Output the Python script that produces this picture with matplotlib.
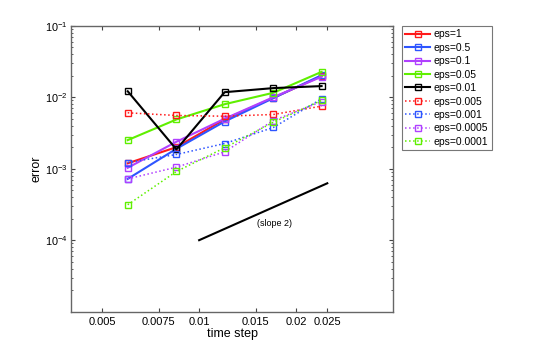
import matplotlib
matplotlib.use("Agg")
import matplotlib.pyplot as plt
from matplotlib.ticker import FixedLocator, FixedFormatter, LogLocator, NullLocator, NullFormatter

plt.rcParams['font.family'] = ['Liberation Sans', 'DejaVu Sans']
plt.rcParams['mathtext.fontset'] = 'custom'
plt.rcParams['mathtext.rm'] = 'Liberation Sans'

time_step = [0.006, 0.0085, 0.012, 0.017, 0.024]

err_eps_1 = [0.00119, 0.0020, 0.0049, 0.0098, 0.0198]
err_eps_0_5 = [0.00072, 0.0019, 0.00457, 0.0097, 0.0203]
err_eps_0_1 = [0.00103, 0.00238, 0.0050, 0.0100, 0.0193]
err_eps_0_05 = [0.00251, 0.00488, 0.00798, 0.01153, 0.0226]
err_eps_0_01 = [0.0121, 0.00186, 0.01175, 0.0134, 0.0143]
err_eps_0_005 = [0.00605, 0.00555, 0.00542, 0.00573, 0.0075]
err_eps_0_001 = [0.00122, 0.00158, 0.00225, 0.00377, 0.0095]
err_eps_0_0005 = [0.00072, 0.00105, 0.00172, 0.00472, 0.0087]
err_eps_0_0001 = [0.000313, 0.000914, 0.00196, 0.00447, 0.0090]

labels = ['eps=1', 'eps=0.5', 'eps=0.1', 'eps=0.05', 'eps=0.01',
          'eps=0.005', 'eps=0.001', 'eps=0.0005', 'eps=0.0001']

slope_x = [0.01, 0.025]
slope_y = [1e-4, 6.25e-4]

xticks = [0.005, 0.0075, 0.01, 0.015, 0.02, 0.025]
xticklabels = ['0.005', '0.0075', '0.01', '0.015', '0.02', '0.025']

series = [err_eps_1, err_eps_0_5, err_eps_0_1, err_eps_0_05, err_eps_0_01,
          err_eps_0_005, err_eps_0_001, err_eps_0_0005, err_eps_0_0001]
colors = ['#ff1a1a', '#2e55ff', '#b040ff', '#5fef00', '#000000',
          '#ff1a1a', '#2e55ff', '#b040ff', '#5fef00']
styles = ['-'] * 5 + [':'] * 4

fig = plt.figure(figsize=(5.45, 3.51), dpi=100)
ax = fig.add_axes([0.1303, 0.112, 0.5908, 0.8148])

for y, c, ls, lab in zip(series, colors, styles, labels):
    ax.plot(time_step, y, ls, color=c, lw=1.5 if ls == '-' else 1.1,
            marker='s', ms=4, mfc='none', mec=c, mew=1.0, label=lab)

ax.plot(slope_x, slope_y, '-', color='k', lw=1.5)
ax.text(0.0172, 1.72e-4, '(slope 2)', fontsize=6.5, ha='center', va='center')

ax.set_xscale('log')
ax.set_yscale('log')
ax.set_xlim(0.004, 0.04)
ax.set_ylim(1e-5, 1e-1)

ax.xaxis.set_major_locator(FixedLocator(xticks))
ax.xaxis.set_major_formatter(FixedFormatter(xticklabels))
ax.xaxis.set_minor_locator(NullLocator())
ax.xaxis.set_minor_formatter(NullFormatter())

ax.yaxis.set_major_locator(FixedLocator([1e-4, 1e-3, 1e-2, 1e-1]))
ax.yaxis.set_major_formatter(FixedFormatter([r'$10^{-4}$', r'$10^{-3}$', r'$10^{-2}$', r'$10^{-1}$']))
ax.yaxis.set_minor_locator(LogLocator(base=10, subs=range(2, 10)))
ax.yaxis.set_minor_formatter(NullFormatter())

ax.tick_params(which='both', direction='in', top=True, right=True, colors='#444444',
               labelcolor='black', labelsize=8)
ax.tick_params(axis='y', which='major', pad=2.5, labelsize=7.8)
ax.tick_params(which='major', length=3)
ax.tick_params(which='minor', length=1.5)
for s in ax.spines.values():
    s.set_color('#666666')
    s.set_linewidth(1.0)

ax.set_xlabel('time step', fontsize=9, labelpad=1)
ax.set_ylabel('error', fontsize=9)
ax.yaxis.set_label_coords(-0.09, 0.5)

leg = ax.legend(loc='upper left', bbox_to_anchor=(1.027, 1.0), fontsize=7.5,
                frameon=True, fancybox=False, borderpad=0.35, labelspacing=0.33,
                handlelength=2.4, handletextpad=0.3, borderaxespad=0.0)
leg.get_frame().set_edgecolor('#555555')
leg.get_frame().set_linewidth(0.8)

fig.savefig('out.png', dpi=100)
